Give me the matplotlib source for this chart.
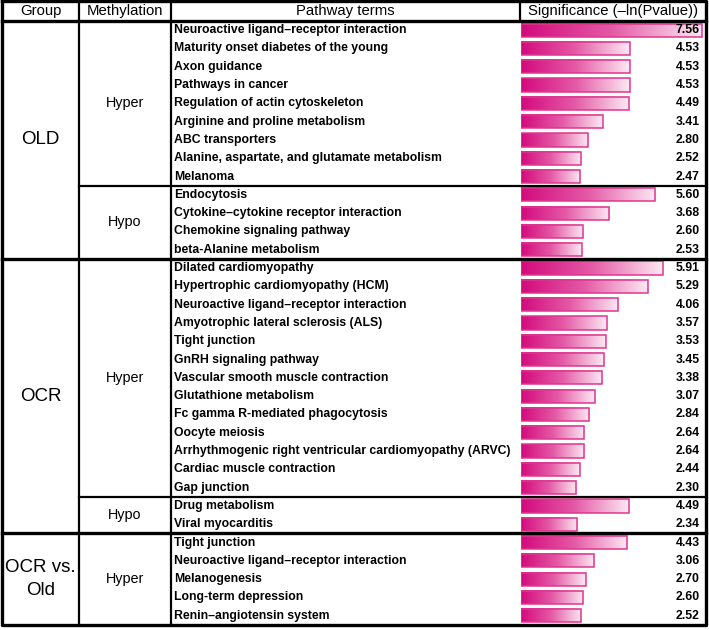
import numpy as np
import matplotlib
matplotlib.use("Agg")
import matplotlib.pyplot as plt
from matplotlib.colors import LinearSegmentedColormap

plt.rcParams['font.family'] = ['Liberation Sans', 'DejaVu Sans']

# table data
header = ["Group", "Methylation", "Pathway terms", "Significance (\u2013ln(Pvalue))"]

old_hyper_terms = ["Neuroactive ligand\u2013receptor interaction", "Maturity onset diabetes of the young",
                   "Axon guidance", "Pathways in cancer", "Regulation of actin cytoskeleton",
                   "Arginine and proline metabolism", "ABC transporters",
                   "Alanine, aspartate, and glutamate metabolism", "Melanoma"]
old_hyper_vals = [7.56, 4.53, 4.53, 4.53, 4.49, 3.41, 2.80, 2.52, 2.47]

old_hypo_terms = ["Endocytosis", "Cytokine\u2013cytokine receptor interaction",
                  "Chemokine signaling pathway", "beta-Alanine metabolism"]
old_hypo_vals = [5.60, 3.68, 2.60, 2.53]

ocr_hyper_terms = ["Dilated cardiomyopathy", "Hypertrophic cardiomyopathy (HCM)",
                   "Neuroactive ligand\u2013receptor interaction", "Amyotrophic lateral sclerosis (ALS)",
                   "Tight junction", "GnRH signaling pathway", "Vascular smooth muscle contraction",
                   "Glutathione metabolism", "Fc gamma R-mediated phagocytosis", "Oocyte meiosis",
                   "Arrhythmogenic right ventricular cardiomyopathy (ARVC)",
                   "Cardiac muscle contraction", "Gap junction"]
ocr_hyper_vals = [5.91, 5.29, 4.06, 3.57, 3.53, 3.45, 3.38, 3.07, 2.84, 2.64, 2.64, 2.44, 2.30]

ocr_hypo_terms = ["Drug metabolism", "Viral myocarditis"]
ocr_hypo_vals = [4.49, 2.34]

vs_hyper_terms = ["Tight junction", "Neuroactive ligand\u2013receptor interaction", "Melanogenesis",
                  "Long-term depression", "Renin\u2013angiotensin system"]
vs_hyper_vals = [4.43, 3.06, 2.70, 2.60, 2.52]

# (group, methylation, terms, values)
sections = [
    ("OLD", "Hyper", old_hyper_terms, old_hyper_vals),
    ("OLD", "Hypo", old_hypo_terms, old_hypo_vals),
    ("OCR", "Hyper", ocr_hyper_terms, ocr_hyper_vals),
    ("OCR", "Hypo", ocr_hypo_terms, ocr_hypo_vals),
    ("OCR vs.\nOld", "Hyper", vs_hyper_terms, vs_hyper_vals),
]

W, H = 709, 630
row_px = 18.3
head_px = 21
y_top = -0.5 - head_px / row_px
y_bot = y_top + H / row_px

x_left, x_grp, x_meth, x_sig, x_right = 2, 79, 171, 520, 706
bar_x0 = 521
px_per_unit = 24.0

fig = plt.figure(figsize=(W / 100, H / 100), dpi=100)
ax = fig.add_axes([0, 0, 1, 1])
ax.set_xlim(0, W)
ax.set_ylim(y_bot, y_top)
ax.axis('off')
ax.set_zorder(2)

bax = fig.add_axes([bar_x0 / W, 0, (W - bar_x0) / W, 1])
bax.axis('off')
bax.set_zorder(1)

cmap = LinearSegmentedColormap.from_list("pinkgrad", ["#d30a7d", "#e45aa6", "#fde9f3"])
grad = np.linspace(0, 1, 256).reshape(1, -1)
bh = 0.72

lw_in = 1.6
lw_out = 2.4

# header
hy = (y_top + (-0.5)) / 2
ax.text((x_left + x_grp) / 2, hy, header[0], ha='center', va='center', fontsize=10.7)
ax.text((x_grp + x_meth) / 2, hy, header[1], ha='center', va='center', fontsize=10.7)
ax.text((x_meth + x_sig) / 2, hy, header[2], ha='center', va='center', fontsize=10.7)
ax.text((x_sig + x_right) / 2, hy, header[3], ha='center', va='center', fontsize=10.7)
for xv in [x_grp, x_meth, x_sig]:
    ax.plot([xv, xv], [y_top, -0.5], color='black', lw=lw_in)
ax.plot([x_left, x_right], [-0.5, -0.5], color='black', lw=lw_out)

row = 0
group_start = 0
for gi, (grp, meth, terms, vals) in enumerate(sections):
    start = row
    for t, v in zip(terms, vals):
        ax.text(174, row, t, ha='left', va='center', fontsize=8.8, fontweight='bold')
        ax.text(700, row, "%.2f" % v, ha='right', va='center', fontsize=8.8, fontweight='bold')
        bax.imshow(grad, cmap=cmap, aspect='auto', extent=[0, v, row + bh / 2, row - bh / 2],
                   interpolation='bicubic', zorder=1)
        bax.barh(row, v, height=bh, fill=False, edgecolor='#e0358f', linewidth=1.1, zorder=2)
        row += 1
    end = row
    ax.text((x_grp + x_meth) / 2, (start + end - 1) / 2, meth, ha='center', va='center', fontsize=10.4)
    next_grp = sections[gi + 1][0] if gi + 1 < len(sections) else None
    if next_grp != grp:
        ax.text((x_left + x_grp) / 2, (group_start + end - 1) / 2, grp, ha='center', va='center',
                fontsize=13.5, linespacing=1.45)
        if next_grp is not None:
            ax.plot([x_left, x_right], [end - 0.5, end - 0.5], color='black', lw=lw_out)
        group_start = end
    else:
        ax.plot([x_grp, x_right], [end - 0.5, end - 0.5], color='black', lw=lw_in)

n_rows = row
for xv in [x_grp, x_meth]:
    ax.plot([xv, xv], [-0.5, n_rows - 0.5], color='black', lw=lw_in)

# outer border
ax.plot([x_left, x_right, x_right, x_left, x_left],
        [y_top + 0.05, y_top + 0.05, n_rows - 0.5, n_rows - 0.5, y_top + 0.05],
        color='black', lw=lw_out)

bax.set_xlim(0, (W - bar_x0) / px_per_unit)
bax.set_ylim(y_bot, y_top)

fig.savefig("out.png", dpi=100)
